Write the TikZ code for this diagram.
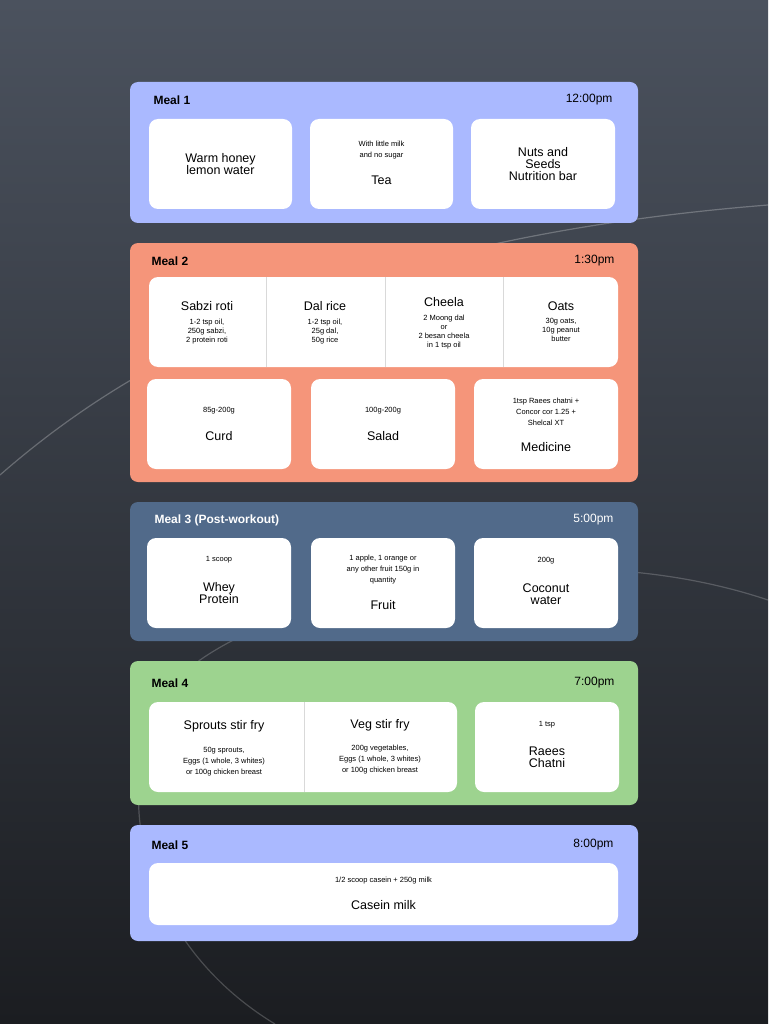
\documentclass[tikz,border=0pt]{standalone}
\usepackage{fontspec}
\setmainfont{Liberation Sans}
\usetikzlibrary{positioning}
\definecolor{bgtop}{HTML}{4B525E}
\definecolor{bgbot}{HTML}{1B1D21}
\definecolor{mealblue}{HTML}{AAB9FF}
\definecolor{mealorange}{HTML}{F5957A}
\definecolor{mealslate}{HTML}{516A8A}
\definecolor{mealgreen}{HTML}{9DD38F}
\definecolor{divgray}{HTML}{D9D9D9}
\tikzset{
  panel/.style={fill=#1, rounded corners=8pt},
  card/.style={fill=white, rounded corners=9pt},
  head/.style={font=\bfseries\fontsize{12}{14}\selectfont, anchor=west},
  clock/.style={font=\fontsize{12}{14}\selectfont, anchor=east},
  title/.style={font=\fontsize{12.5}{13}\selectfont, align=center},
  info/.style={font=\fontsize{7.5}{11}\selectfont, align=center},
}
\newcommand{\mealcard}[6]{% name, x1, y1, x2, y2, dx
  \path[card] (#2,#3) rectangle (#4,#5);
  \coordinate (#1) at ({(#2+#4)/2},{(#3+#5)/2});
}
\begin{document}
\begin{tikzpicture}[x=1pt, y=-1pt]

  % background
  \shade[top color=bgtop, bottom color=bgbot] (0,0) rectangle (768,1024);
  \useasboundingbox (0,0) rectangle (768,1024);

  % faint arcs
  \draw[white, opacity=0.25, line width=1.2pt] (0,475) .. controls (120,370) and (330,240) .. (768,205);
  \draw[white, opacity=0.2, line width=1.2pt] (768,600) .. controls (560,530) and (300,590) .. (200,660)
    .. controls (100,740) and (120,930) .. (275,1024);

  % meal 1
  \path[panel=mealblue] (130,82) rectangle (638,223);
  \node[head] (m1) at (150,100) {Meal 1};
  \node[clock] (t1) at (616,100) {12:00pm};
  \mealcard{c11}{149}{119}{292}{209}{}
  \mealcard{c12}{310}{119}{453}{209}{}
  \mealcard{c13}{471}{119}{615}{209}{}
  \node[title] at (c11) {Warm honey\\[-1pt]lemon water};
  \node[title] at ([yshift=-16]c12) {Tea};
  \node[info] at ([yshift=14]c12) {With little milk\\and no sugar};
  \node[title] at (c13) {Nuts and\\[-1pt]Seeds\\[-1pt]Nutrition bar};

  % meal 2
  \path[panel=mealorange] (130,243) rectangle (638,482);
  \node[head] (m2) at (148,261) {Meal 2};
  \node[clock] (t2) at (618,261) {1:30pm};
  \mealcard{r21}{149}{277}{618}{367}{}
  \foreach \xd in {266,385,503}
    \draw[divgray] (\xd,277) -- (\xd,367);
  \foreach \t/\d/\xc [count=\k] in {Sabzi roti/{1-2 tsp oil,\\250g sabzi,\\2 protein roti}/207,
      Dal rice/{1-2 tsp oil,\\25g dal,\\50g rice}/325,
      Oats/{30g oats,\\10g peanut\\butter}/561}
  {
    \node[title] (t2-\k) at (\xc,306) {\t};
    \node[info, below=1pt of t2-\k, font=\fontsize{7.5}{9}\selectfont] {\d};
  }
  \node[title] (t2-c) at (444,302) {Cheela};
  \node[info, below=1pt of t2-c, font=\fontsize{7.5}{9}\selectfont] {2 Moong dal\\or\\2 besan cheela\\in 1 tsp oil};
  \mealcard{c24}{147}{379}{291}{469}{}
  \mealcard{c25}{311}{379}{455}{469}{}
  \mealcard{c26}{474}{379}{618}{469}{}
  \node[title] at ([yshift=-12]c24) {Curd};
  \node[info] at ([yshift=13]c24) {85g-200g};
  \node[title] at ([yshift=-12]c25) {Salad};
  \node[info] at ([yshift=13]c25) {100g-200g};
  \node[title] at ([yshift=-23]c26) {Medicine};
  \node[info] at ([yshift=12]c26) {1tsp Raees chatni +\\Concor cor 1.25 +\\Shelcal XT};

  % meal 3
  \path[panel=mealslate] (130,502) rectangle (638,641);
  \node[head, white] (m3) at (151,520) {Meal 3 (Post-workout)};
  \node[clock, white] (t3) at (617,520) {5:00pm};
  \mealcard{c31}{147}{538}{291}{628}{}
  \mealcard{c32}{311}{538}{455}{628}{}
  \mealcard{c33}{474}{538}{618}{628}{}
  \node[title] at ([yshift=-10]c31) {Whey\\[-1pt]Protein};
  \node[info] at ([yshift=23]c31) {1 scoop};
  \node[title] at ([yshift=-22]c32) {Fruit};
  \node[info] at ([yshift=13]c32) {1 apple, 1 orange or\\any other fruit 150g in\\quantity};
  \node[title] at ([yshift=-11]c33) {Coconut\\[-1pt]water};
  \node[info] at ([yshift=22]c33) {200g};

  % meal 4
  \path[panel=mealgreen] (130,661) rectangle (638,805);
  \node[head] (m4) at (148,683) {Meal 4};
  \node[clock] (t4) at (618,683) {7:00pm};
  \mealcard{r41}{149}{702}{457}{792}{}
  \draw[divgray] (304,702) -- (304,792);
  \node[title] (t4-1) at (224,726) {Sprouts stir fry};
  \node[info] at (224,762) {50g sprouts,\\Eggs (1 whole, 3 whites)\\or 100g chicken breast};
  \node[title] (t4-2) at (380,725) {Veg stir fry};
  \node[info] at (380,760) {200g vegetables,\\Eggs (1 whole, 3 whites)\\or 100g chicken breast};
  \mealcard{c43}{475}{702}{619}{792}{}
  \node[title] at ([yshift=-10]c43) {Raees\\[-1pt]Chatni};
  \node[info] at ([yshift=22]c43) {1 tsp};

  % meal 5
  \path[panel=mealblue] (130,825) rectangle (638,941);
  \node[head] (m5) at (148,845) {Meal 5};
  \node[clock] (t5) at (617,845) {8:00pm};
  \mealcard{c51}{149}{863}{618}{925}{}
  \node[title] at ([yshift=-11]c51) {Casein milk};
  \node[info] at ([yshift=13]c51) {1/2 scoop casein + 250g milk};

\end{tikzpicture}
\end{document}
